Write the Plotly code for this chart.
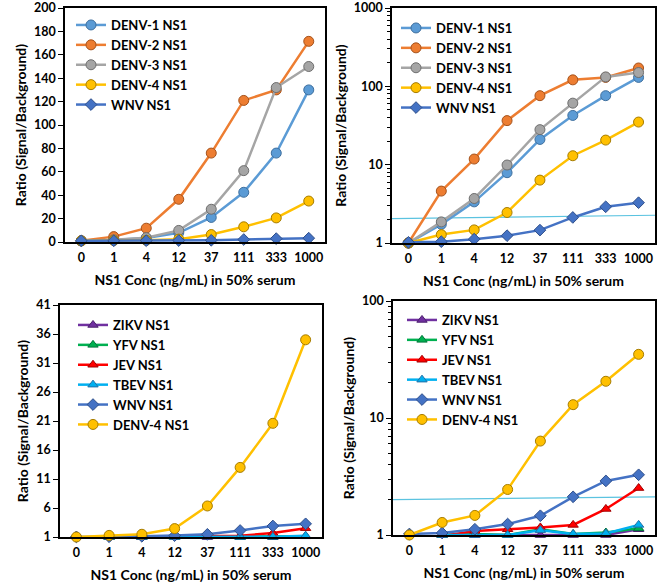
import plotly.graph_objects as go

# ---------------- data ----------------
conc_labels = ["0", "1", "4", "12", "37", "111", "333", "1000"]

denv1 = [1.0, 1.73, 3.35, 7.9, 21.0, 42.5, 76.0, 130.0]
denv2 = [1.0, 4.6, 11.8, 36.5, 76.0, 121.0, 130.0, 171.5]
denv3 = [1.0, 1.86, 3.7, 9.9, 28.0, 61.0, 132.0, 150.0]
denv4 = [1.0, 1.28, 1.47, 2.45, 6.35, 13.0, 20.6, 35.0]
wnv = [1.02, 1.04, 1.12, 1.24, 1.46, 2.12, 2.9, 3.27]

zikv = [None, 1.0, 1.0, 0.99, 1.0, 1.0, 1.0, 1.12]
yfv = [None, 1.0, 1.02, 1.0, 1.12, 1.02, 1.05, 1.14]
jev = [None, 0.98, 1.08, 1.12, 1.16, 1.22, 1.67, 2.52]
tbev = [None, 1.0, 1.0, 1.0, 1.1, 1.02, 1.03, 1.22]

# cutoff line (ratio ~2), as drawn on the log panels (left edge, right edge)
cutoff_top = [2.05, 2.26]
cutoff_bottom = [2.01, 2.12]

FONT = "Lato"
W, H = 660, 585

xpos = list(range(len(conc_labels)))


def px_x(p):
    return p / W


def px_y(p):
    return 1 - p / H


styles = {
    "DENV-1 NS1": dict(color="#5B9BD5", edge="#3E6F9E", symbol="circle", size=10),
    "DENV-2 NS1": dict(color="#ED7D31", edge="#A4521C", symbol="circle", size=10),
    "DENV-3 NS1": dict(color="#A5A5A5", edge="#6E6E6E", symbol="circle", size=10),
    "DENV-4 NS1": dict(color="#FFC000", edge="#A67C00", symbol="circle", size=10),
    "WNV NS1": dict(color="#4472C4", edge="#2F4F8A", symbol="diamond", size=9),
    "ZIKV NS1": dict(color="#7030A0", edge="#4B1F6C", symbol="triangle-up", size=9),
    "YFV NS1": dict(color="#00B050", edge="#00763A", symbol="triangle-up", size=9),
    "JEV NS1": dict(color="#FF0000", edge="#A00000", symbol="triangle-up", size=9),
    "TBEV NS1": dict(color="#00B0F0", edge="#2070A8", symbol="triangle-up", size=9),
}

fig = go.Figure()

panels = [
    ("", "legend", [("DENV-1 NS1", denv1), ("DENV-2 NS1", denv2), ("DENV-3 NS1", denv3),
                    ("DENV-4 NS1", denv4), ("WNV NS1", wnv)]),
    ("2", "legend2", [("DENV-1 NS1", denv1), ("DENV-2 NS1", denv2), ("DENV-3 NS1", denv3),
                      ("DENV-4 NS1", denv4), ("WNV NS1", wnv)]),
    ("3", "legend3", [("ZIKV NS1", zikv), ("YFV NS1", yfv), ("JEV NS1", jev),
                      ("TBEV NS1", tbev), ("WNV NS1", wnv), ("DENV-4 NS1", denv4)]),
    ("4", "legend4", [("ZIKV NS1", zikv), ("YFV NS1", yfv), ("JEV NS1", jev),
                      ("TBEV NS1", tbev), ("WNV NS1", wnv), ("DENV-4 NS1", denv4)]),
]

for suf, cut in (("2", cutoff_top), ("4", cutoff_bottom)):
    fig.add_trace(go.Scatter(
        x=[-0.5, 7.5], y=cut, mode="lines",
        line=dict(color="#5BC3E0", width=1.2),
        xaxis="x" + suf, yaxis="y" + suf, showlegend=False, hoverinfo="skip",
        cliponaxis=False))

for suf, leg, series in panels:
    for i, (name, vals) in enumerate(series):
        st = styles[name]
        fig.add_trace(go.Scatter(
            x=xpos, y=vals, name=name, mode="lines+markers",
            line=dict(color=st["color"], width=2.5),
            marker=dict(symbol=st["symbol"], size=st["size"], color=st["color"],
                        line=dict(color=st["edge"], width=1)),
            xaxis="x" + suf, yaxis="y" + suf, legend=leg,
            legendgroup=leg + str(i), cliponaxis=False, connectgaps=False))

# plot boxes in window pixels: (left, right, top, bottom)
boxes = {
    "": (65, 325, 8, 242),
    "2": (392, 655, 8, 243),
    "3": (60, 322, 305, 537),
    "4": (393, 655, 301, 535),
}

axis_font = dict(family=FONT, size=12.5, color="black", weight="bold")
title_font = dict(family=FONT, size=14, color="black", weight="bold")

layout = dict(
    width=W, height=H, margin=dict(l=0, r=0, t=0, b=0, autoexpand=False),
    paper_bgcolor="white", plot_bgcolor="white",
    font=dict(family=FONT, color="black"),
)

for suf, (l, r, t, b) in boxes.items():
    xa = dict(
        domain=[px_x(l), px_x(r)], range=[-0.5, 7.5],
        tickmode="array", tickvals=xpos, ticktext=conc_labels,
        showgrid=False, zeroline=False, showline=True, mirror=True,
        linecolor="black", linewidth=1.5,
        ticks="outside", ticklen=3, tickcolor="rgba(0,0,0,0)", tickfont=axis_font,
        title=dict(text="NS1 Conc (ng/mL) in 50% serum", font=title_font, standoff=11),
        anchor="y" + suf, fixedrange=True, automargin=False,
        ticklabeloverflow="allow",
    )
    ya = dict(
        domain=[px_y(b), px_y(t)], showgrid=False, zeroline=False,
        showline=True, mirror=True, linecolor="black", linewidth=1.5,
        ticks="outside", ticklen=5, tickwidth=1.2, tickcolor="black",
        tickfont=axis_font,
        title=dict(text="Ratio (Signal/Background)", font=title_font, standoff=4),
        anchor="x" + suf, fixedrange=True, automargin=False,
        ticklabeloverflow="allow",
    )
    if suf == "":
        ya.update(range=[0, 200], tickmode="linear", tick0=0, dtick=20)
    elif suf == "2":
        ya.update(type="log", range=[0, 3], tickmode="array", tickvals=[1, 10, 100, 1000],
                  ticktext=["1", "10", "100", "1000"],
                  minor=dict(ticks="outside", ticklen=3, tickcolor="black",
                             tickvals=[v * m for m in (1, 10, 100) for v in range(2, 10)]))
    elif suf == "3":
        ya.update(range=[1, 41], tickmode="linear", tick0=1, dtick=5)
    else:
        ya.update(type="log", range=[0, 2], tickmode="array", tickvals=[1, 10, 100],
                  ticktext=["1", "10", "100"],
                  minor=dict(ticks="outside", ticklen=3, tickcolor="black",
                             tickvals=[v * m for m in (1, 10) for v in range(2, 10)]))
    layout["xaxis" + suf] = xa
    layout["yaxis" + suf] = ya

leg_common = dict(bgcolor="rgba(0,0,0,0)", font=dict(family=FONT, size=13, color="black", weight="bold"),
                  xanchor="left", yanchor="top", itemwidth=30, tracegroupgap=5,
                  traceorder="normal")
layout["legend"] = dict(leg_common, x=px_x(71), y=px_y(10))
layout["legend2"] = dict(leg_common, x=px_x(396), y=px_y(13))
layout["legend3"] = dict(leg_common, x=px_x(73), y=px_y(310))
layout["legend4"] = dict(leg_common, x=px_x(402), y=px_y(305))

fig.update_layout(**layout)
fig.write_html("out.html",
               config={"displayModeBar": False},
               post_script="document.body.style.margin='0';document.body.style.overflow='hidden';")
